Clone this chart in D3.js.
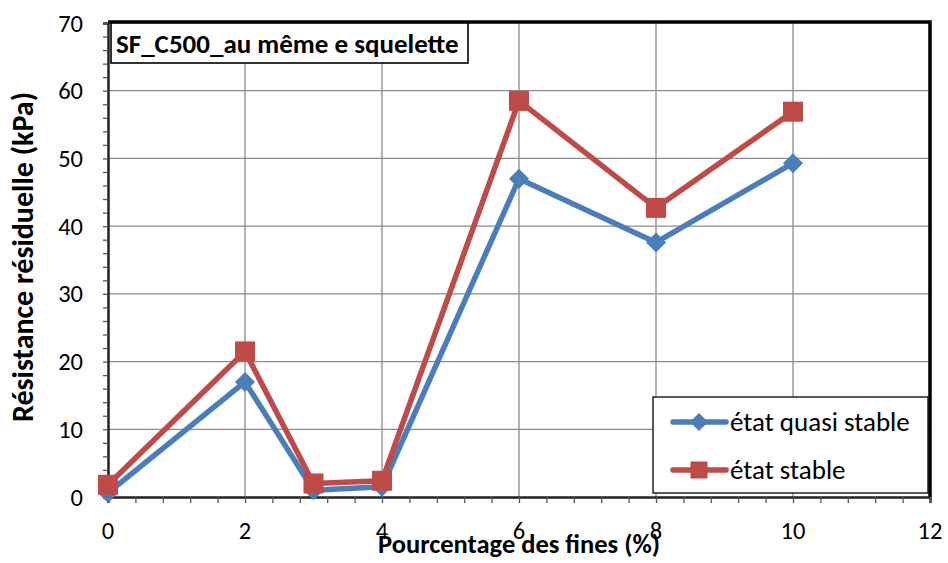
<!DOCTYPE html>
<html>
<head>
<meta charset="utf-8">
<script src="https://cdn.jsdelivr.net/npm/d3@7"></script>
<style>
  html, body { margin: 0; padding: 0; background: #fff; }
  svg { display: block; }
  text { font-family: Carlito, "Open Sans", "Noto Sans", sans-serif; }
</style>
</head>
<body>
<svg id="chart" width="948" height="563"></svg>
<script>
// Fines content (%) and residual strength (kPa)
const finesPct = [0, 2, 3, 4, 6, 8, 10];
const quasiStable = [0.6, 17.0, 1.0, 1.5, 47.0, 37.6, 49.3];
const steadyState = [1.8, 21.5, 2.0, 2.4, 58.5, 42.7, 56.9];
const seriesNames = ["état quasi stable", "état stable"];
const xTicks = [0, 2, 4, 6, 8, 10, 12];
const yTicks = [0, 10, 20, 30, 40, 50, 60, 70];
const chartTitle = "SF_C500_au même e squelette";
const xLabel = "Pourcentage des fines (%)";
const yLabel = "Résistance résiduelle (kPa)";

const svg = d3.select("#chart");
const m = { left: 108, top: 23, right: 930, bottom: 497 };
const x = d3.scaleLinear().domain([0, 12]).range([m.left, m.right]);
const y = d3.scaleLinear().domain([0, 70]).range([m.bottom, m.top]);

const blue = "#4a7ebb", red = "#be4b48";

// gridlines
const g = svg.append("g");
g.selectAll("line.vg").data(xTicks.filter(d => d > 0 && d < 12)).enter()
  .append("line").attr("x1", d => x(d)).attr("x2", d => x(d))
  .attr("y1", m.top).attr("y2", m.bottom).attr("stroke", "#8c8c8c").attr("stroke-width", 1.3);
g.selectAll("line.hg").data(yTicks.filter(d => d > 0 && d < 70)).enter()
  .append("line").attr("x1", m.left).attr("x2", m.right)
  .attr("y1", d => y(d)).attr("y2", d => y(d)).attr("stroke", "#8c8c8c").attr("stroke-width", 1.3);

// top and right frame
svg.append("path")
  .attr("d", `M${m.left},${m.top - 1}H${m.right}V${m.bottom}`)
  .attr("fill", "none").attr("stroke", "#000").attr("stroke-width", 3.5);

// axes with minor ticks
const xAxis = d3.axisBottom(x).tickValues(d3.range(0, 12.001, 0.4)).tickSize(6).tickFormat("");
const yAxis = d3.axisLeft(y).tickValues(d3.range(0, 70.001, 2)).tickSize(5).tickFormat("");
const gx = svg.append("g").attr("transform", `translate(0,${m.bottom})`).call(xAxis);
const gy = svg.append("g").attr("transform", `translate(${m.left},0)`).call(yAxis);
[gx, gy].forEach(a => {
  a.select(".domain").attr("stroke", "#222").attr("stroke-width", 2.5);
  a.selectAll(".tick line").attr("stroke", "#555").attr("stroke-width", 1.3);
});

// tick labels
svg.append("g").selectAll("text").data(xTicks).enter().append("text")
  .attr("x", d => x(d)).attr("y", 539).attr("text-anchor", "middle")
  .attr("font-size", 24.5).attr("fill", "#000").text(d => d);
svg.append("g").selectAll("text").data(yTicks).enter().append("text")
  .attr("x", 83).attr("y", d => y(d) + 8.5).attr("text-anchor", "end")
  .attr("font-size", 24.5).attr("fill", "#000").text(d => d);

// series
const line = d3.line().x(d => x(d[0])).y(d => y(d[1]));
const series = [
  { name: seriesNames[0], vals: quasiStable, color: blue },
  { name: seriesNames[1], vals: steadyState, color: red }
];
const diamond = (cx, cy, r) => `M${cx},${cy - r}L${cx + r},${cy}L${cx},${cy + r}L${cx - r},${cy}Z`;
const square = (cx, cy, r) => `M${cx - r},${cy - r}h${2 * r}v${2 * r}h${-2 * r}Z`;

series.forEach((s, i) => {
  const pts = finesPct.map((f, k) => [f, s.vals[k]]);
  svg.append("path").attr("d", line(pts)).attr("fill", "none")
    .attr("stroke", s.color).attr("stroke-width", 5.5).attr("stroke-linejoin", "round");
  svg.append("g").selectAll("path").data(pts).enter().append("path")
    .attr("d", d => i === 0 ? diamond(x(d[0]), y(d[1]), 10) : square(x(d[0]), y(d[1]), 10))
    .attr("fill", s.color);
});

// title box
svg.append("rect").attr("x", 111).attr("y", 23).attr("width", 357).attr("height", 40)
  .attr("fill", "#fff").attr("stroke", "#000").attr("stroke-width", 1.6);
svg.append("text").attr("x", 116).attr("y", 53).attr("font-size", 27).attr("font-weight", "bold")
  .attr("fill", "#000").text(chartTitle);

// legend
svg.append("rect").attr("x", 653).attr("y", 397).attr("width", 275).attr("height", 96)
  .attr("fill", "#fff").attr("stroke", "#000").attr("stroke-width", 1.3);
series.forEach((s, i) => {
  const ly = 422 + i * 48;
  svg.append("line").attr("x1", 673).attr("x2", 726).attr("y1", ly).attr("y2", ly)
    .attr("stroke", s.color).attr("stroke-width", 5.5).attr("stroke-linecap", "round");
  svg.append("path").attr("d", i === 0 ? diamond(699, ly, 9) : square(699, ly, 8.5)).attr("fill", s.color);
  svg.append("text").attr("x", 730).attr("y", ly + 8.5).attr("font-size", 27).attr("fill", "#000").text(s.name);
});

// axis titles
svg.append("text").attr("x", 519).attr("y", 553).attr("text-anchor", "middle")
  .attr("font-size", 26.5).attr("font-weight", "bold").attr("fill", "#000").text(xLabel);
svg.append("text").attr("transform", "translate(33,257) rotate(-90)").attr("text-anchor", "middle")
  .attr("font-size", 30).attr("font-weight", "bold").attr("fill", "#000").text(yLabel);
</script>
</body>
</html>
